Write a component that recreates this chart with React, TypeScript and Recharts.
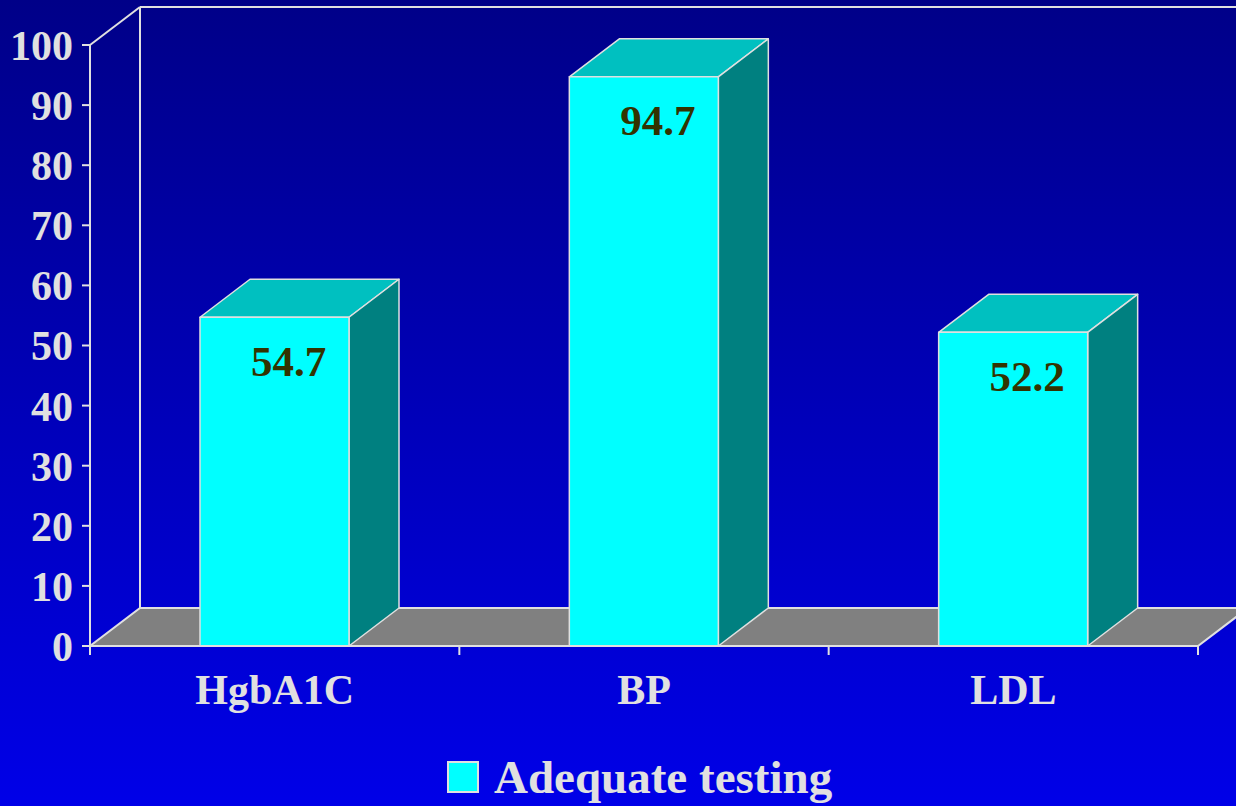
import { Bar, BarChart, LabelList, ReferenceArea, XAxis, YAxis } from "recharts";

const categories = ["HgbA1C", "BP", "LDL"];
const adequateTesting = [54.7, 94.7, 52.2];
const yTicks = [0, 10, 20, 30, 40, 50, 60, 70, 80, 90, 100];
const seriesName = "Adequate testing";

const data = categories.map((name, i) => ({ name, value: adequateTesting[i] }));

const FONT = '"Liberation Serif", "Times New Roman", serif';
const EDGE = "#E0E0E0";
const DEPTH_X = 50;
const DEPTH_Y = 38;

// front face, lit top, shaded side
function Box3D(props: any) {
  const { x, y, width, height } = props;
  const dx = DEPTH_X;
  const dy = DEPTH_Y;
  const r = x + width;
  const b = y + height;
  return (
    <g stroke={EDGE} strokeWidth={1.5} strokeLinejoin="round">
      <polygon
        points={`${x},${y} ${x + dx},${y - dy} ${r + dx},${y - dy} ${r},${y}`}
        fill="#00C0C0"
      />
      <polygon
        points={`${r},${y} ${r + dx},${y - dy} ${r + dx},${b - dy} ${r},${b}`}
        fill="#008080"
      />
      <rect x={x} y={y} width={width} height={height} fill="#00FFFF" />
    </g>
  );
}

// back wall outline, grey floor and category separators
function Frame(props: any) {
  const { x, y, width, height } = props;
  const dx = DEPTH_X;
  const dy = DEPTH_Y;
  const b = y + height;
  const step = width / categories.length;
  return (
    <g stroke={EDGE} strokeWidth={2} fill="none">
      <polygon
        points={`${x},${b} ${x + width},${b} ${x + width + dx},${b - dy} ${x + dx},${b - dy}`}
        fill="#808080"
      />
      <line x1={x + dx} y1={b - dy} x2={x + dx} y2={y - dy} />
      <line x1={x + dx} y1={y - dy} x2={x + width + dx} y2={y - dy} />
      <line x1={x} y1={y} x2={x + dx} y2={y - dy} />
      {categories.map((_, i) => (
        <line key={i} x1={x + i * step} y1={b} x2={x + i * step} y2={b + 9} />
      ))}
      <line x1={x + width} y1={b} x2={x + width} y2={b + 9} />
    </g>
  );
}

function ValueLabel(props: any) {
  const { x, y, width, value } = props;
  return (
    <text
      x={x + width / 2 + 14}
      y={y + 44}
      textAnchor="middle"
      dominantBaseline="central"
      fontFamily={FONT}
      fontWeight="bold"
      fontSize={43}
      fill="#333300"
    >
      {value}
    </text>
  );
}

export default function App() {
  return (
    <div
      style={{
        position: "absolute",
        left: 0,
        top: 0,
        width: 1236,
        height: 806,
        overflow: "hidden",
        background: "linear-gradient(#000088, #0000E8)",
      }}
    >
      <BarChart
        width={1236}
        height={806}
        data={data}
        margin={{ top: 45, right: 38, left: 0, bottom: 100 }}
        barSize={149}
      >
        <ReferenceArea y1={0} y2={100} shape={<Frame />} ifOverflow="visible" />
        <XAxis
          dataKey="name"
          height={60}
          axisLine={{ stroke: EDGE, strokeWidth: 2 }}
          tickLine={false}
          tickSize={0}
          tickMargin={28}
          tick={{ fill: EDGE, fontFamily: FONT, fontWeight: "bold", fontSize: 42 }}
        />
        <YAxis
          width={90}
          domain={[0, 100]}
          ticks={yTicks}
          interval={0}
          axisLine={{ stroke: EDGE, strokeWidth: 2 }}
          tickLine={{ stroke: EDGE, strokeWidth: 2 }}
          tickSize={8}
          tickMargin={9}
          tick={{ fill: EDGE, fontFamily: FONT, fontWeight: "bold", fontSize: 42 }}
        />
        <Bar dataKey="value" name={seriesName} shape={<Box3D />} isAnimationActive={false}>
          <LabelList dataKey="value" content={<ValueLabel />} />
        </Bar>
      </BarChart>
      <div
        style={{
          position: "absolute",
          left: 447,
          top: 751,
          display: "flex",
          alignItems: "center",
          fontFamily: FONT,
          fontWeight: "bold",
          fontSize: 47,
          lineHeight: "52px",
          color: EDGE,
          whiteSpace: "nowrap",
        }}
      >
        <span
          style={{
            display: "inline-block",
            width: 28,
            height: 28,
            background: "#00FFFF",
            border: `2px solid ${EDGE}`,
            marginRight: 15,
          }}
        />
        {seriesName}
      </div>
    </div>
  );
}
